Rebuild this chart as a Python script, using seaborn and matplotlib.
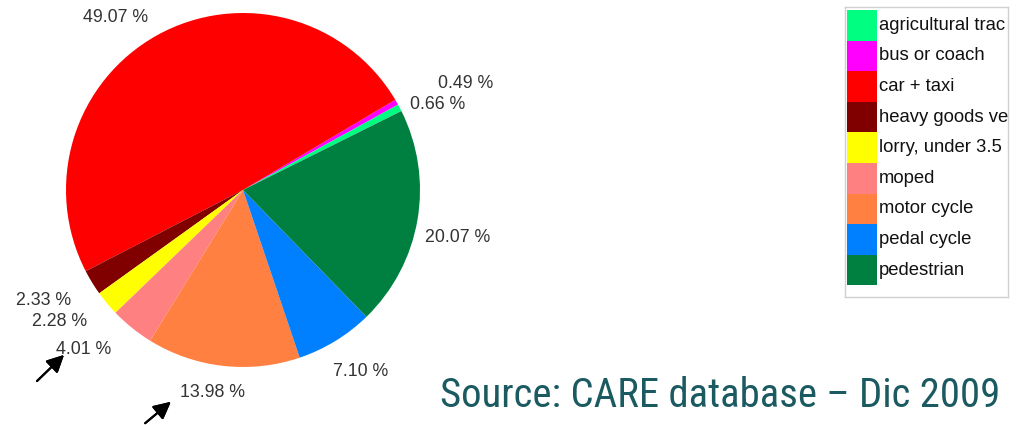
import matplotlib
matplotlib.use("Agg")
import matplotlib.pyplot as plt
import seaborn as sns
from matplotlib.patches import Rectangle

# Data
categories = ["agricultural trac", "bus or coach", "car + taxi", "heavy goods ve",
              "lorry, under 3.5", "moped", "motor cycle", "pedal cycle", "pedestrian"]
shares = [0.66, 0.49, 49.07, 2.33, 2.28, 4.01, 13.98, 7.10, 20.07]
colors = ["#00ff80", "#ff00ff", "#ff0000", "#800000", "#ffff00",
          "#ff8080", "#ff8040", "#0080ff", "#008040"]
# label positions (pie data units, radius = 1)
label_pos = [(1.097, 0.483), (1.256, 0.602), (-0.72, 0.977), (-1.125, -0.625),
             (-1.034, -0.744), (-0.898, -0.903), (-0.17, -1.142), (0.665, -1.028),
             (1.21, -0.267)]

sns.set_theme(style="white")
plt.rcParams["font.family"] = ["Liberation Sans", "DejaVu Sans"]

W, H = 1025, 425
fig = plt.figure(figsize=(W / 100, H / 100), dpi=100)

# Pie
cx, cy, r = 243, 190, 177
ax = fig.add_axes([(cx - r) / W, 1 - (cy + r) / H, 2 * r / W, 2 * r / H])
ax.pie(shares, colors=colors, startangle=26.5, counterclock=True,
       wedgeprops=dict(linewidth=0))
ax.set_xlim(-1, 1)
ax.set_ylim(-1, 1)
ax.set_aspect("equal")
for val, (lx, ly) in zip(shares, label_pos):
    ax.text(lx, ly, f"{val:.2f} %", ha="center", va="center",
            fontsize=12.8, color="#333333", clip_on=False)

# Arrows
for tail, head in [((35, 383), (66, 353)), ((143, 425), (173, 400))]:
    fig.add_artist(plt.annotate(
        "", xy=(head[0] / W, 1 - head[1] / H), xytext=(tail[0] / W, 1 - tail[1] / H),
        xycoords="figure fraction", textcoords="figure fraction",
        arrowprops=dict(arrowstyle="-|>", color="black", lw=1.5, mutation_scale=26)))

# Legend box
lx0, ly0, lx1, ly1 = 845, 7, 1008, 297
lax = fig.add_axes([lx0 / W, 1 - ly1 / H, (lx1 - lx0) / W, (ly1 - ly0) / H])
lax.set_xlim(0, lx1 - lx0)
lax.set_ylim(ly1 - ly0, 0)
lax.set_xticks([])
lax.set_yticks([])
for s in lax.spines.values():
    s.set_edgecolor("#d0d0d0")
    s.set_linewidth(1)
row_h = 30.6
for i, (name, c) in enumerate(zip(categories, colors)):
    y = 3 + i * row_h
    lax.add_patch(Rectangle((2, y), 30, row_h, facecolor=c, edgecolor="none"))
    lax.text(34, y + row_h / 2, name, ha="left", va="center",
             fontsize=13.3, color="#111111")

# Source note
fig.text(440 / W, 1 - 407 / H, "Source: CARE database \u2013 Dic 2009",
         ha="left", va="baseline", fontsize=29.3, color="#1b5a60",
         family=["Roboto Condensed", "Liberation Sans", "DejaVu Sans"])

fig.savefig("out.png", dpi=100)
